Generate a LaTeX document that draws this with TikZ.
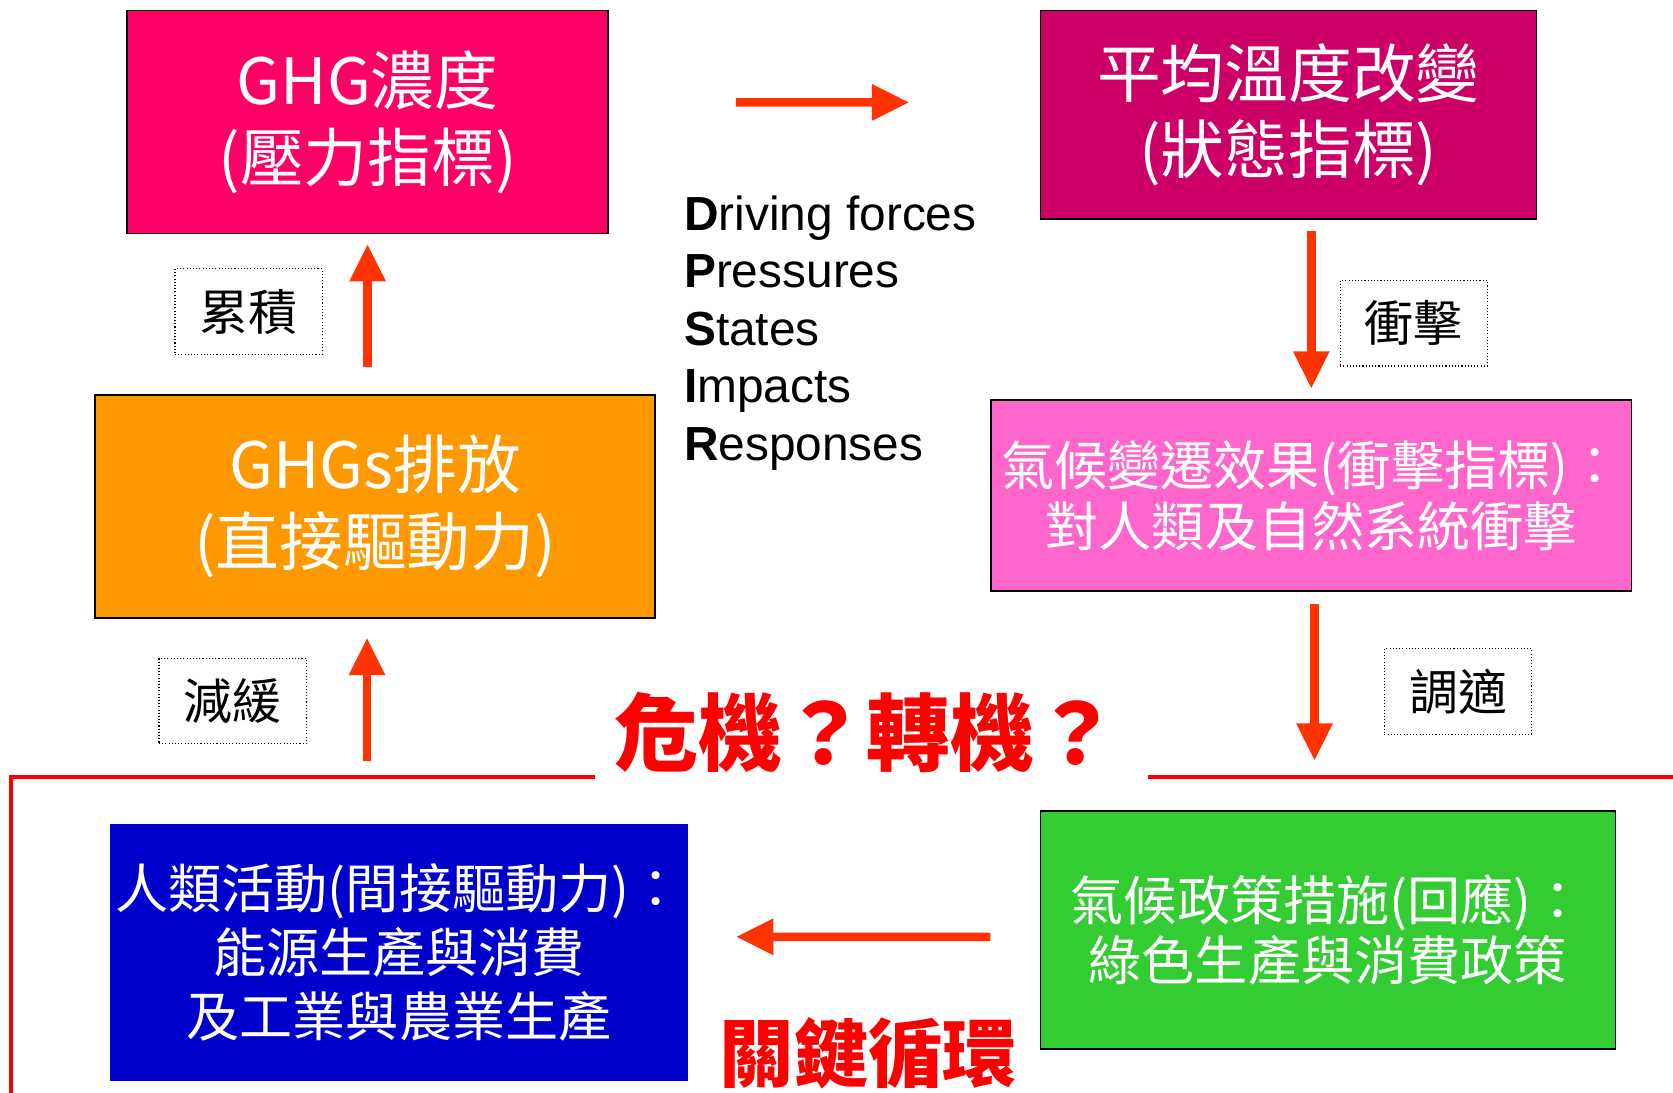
\documentclass[tikz,border=0pt]{standalone}
\usepackage{fontspec}
\setmainfont{Liberation Sans}
\newfontfamily\cjk{Noto Sans CJK TC}
\usetikzlibrary{arrows.meta,calc}
\definecolor{cGHG}{HTML}{FF0066}
\definecolor{cTemp}{HTML}{CC0066}
\definecolor{cEmit}{HTML}{FF9900}
\definecolor{cImp}{HTML}{FF66CC}
\definecolor{cBlue}{HTML}{0000CC}
\definecolor{cGreen}{HTML}{33CC33}
\definecolor{cArrow}{HTML}{FF3300}
\definecolor{cRed}{HTML}{FF0000}
\begin{document}
\begin{tikzpicture}[x=1bp,y=-1bp,
  box/.style={draw=black, line width=1.5bp, inner sep=0pt, align=center, text=white},
  bigtxt/.style={font={\cjk\fontsize{60}{72}\selectfont}},
  midtxt/.style={font={\cjk\fontsize{50}{57}\selectfont}},
  lab/.style={draw=black, dotted, line width=1bp, minimum width=138bp, minimum height=80bp, inner sep=0pt, font={\cjk\fontsize{46}{50}\selectfont}},
  arr/.style={draw=cArrow, line width=8bp, -{Triangle[width=32bp,length=35bp]}},
  loopline/.style={draw=cRed, line width=4bp},
  redtitle/.style={text=cRed, inner sep=0pt}
]
\useasboundingbox (0,0) rectangle (1568,1024);

% main boxes
\node[box, bigtxt, fill=cGHG, minimum width=451bp, minimum height=209bp] (ghg) at (344.5,114.5) {GHG濃度\\(壓力指標)};
\node[box, bigtxt, fill=cTemp, minimum width=465bp, minimum height=195bp] (temp) at (1207.5,107.5) {平均溫度改變\\(狀態指標)};
\node[box, bigtxt, fill=cEmit, minimum width=525bp, minimum height=209bp] (emit) at (351.5,474.5) {GHGs排放\\(直接驅動力)};
\node[box, midtxt, fill=cImp, minimum width=600bp, minimum height=179bp] (imp) at (1229,464.5) {氣候變遷效果(衝擊指標)：\\對人類及自然系統衝擊};
\node[box, draw=none, fill=cBlue, minimum width=542bp, minimum height=241bp, font={\cjk\fontsize{50}{60}\selectfont}] (human) at (374,892.5) {人類活動(間接驅動力)：\\能源生產與消費\\及工業與農業生產};
\node[box, midtxt, fill=cGreen, minimum width=539bp, minimum height=223bp] (policy) at (1244.5,871.5) {氣候政策措施(回應)：\\綠色生產與消費政策};

% labels
\node[lab] (accum) at (233,292) {累積};
\node[lab] (impact) at (1325,303) {衝擊};
\node[lab] (mitig) at (218,657) {減緩};
\node[lab] (adapt) at (1366.5,648) {調適};

% DPSIR text
\node[anchor=west, align=left, inner sep=0pt, font={\fontsize{45}{54}\selectfont}] (dpsir) at (641,312)
 {\textbf{D}riving forces\\\textbf{P}ressures\\\textbf{S}tates\\\textbf{I}mpacts\\\textbf{R}esponses};

% loop line
\coordinate (loopL) at (344,728);
\coordinate (loopR) at (1232,728);
\coordinate (lineA) at (558,728);
\coordinate (lineB) at (1076,728);
\coordinate (lineEnd) at (1568,728);
\coordinate (corner) at (10,728);
\coordinate (bottomL) at (10,1026);
\draw[loopline] (lineA) -- (corner) -- (bottomL);
\draw[loopline] (lineB) -- (lineEnd);

% titles
\node[redtitle, font={\cjk\bfseries\fontsize{79}{82}\selectfont}] (crisis) at (812,687) {危機？轉機？};
\node[redtitle, font={\cjk\bfseries\fontsize{70}{72}\selectfont}] (keyloop) at (814,987) {關鍵循環};

% arrows
\draw[arr, shorten <=119bp, shorten >=122bp] ([yshift=18.5bp]ghg.east) -- ([yshift=11.5bp]temp.west);
\draw[arr, shorten <=11bp, shorten >=10bp] (temp.south -| imp.north) -- (imp.north);
\draw[arr, shorten <=11bp, shorten >=15bp] (imp.south -| loopR) -- (loopR);
\draw[arr, shorten <=46bp, shorten >=44bp] ([yshift=-6.5bp]policy.west) -- ([yshift=14.5bp]human.east);
\draw[arr, shorten <=15bp, shorten >=18bp] (loopL) -- (emit.south -| loopL);
\draw[arr, shorten <=25bp, shorten >=9bp] (emit.north -| ghg.south) -- (ghg.south);
\end{tikzpicture}
\end{document}
